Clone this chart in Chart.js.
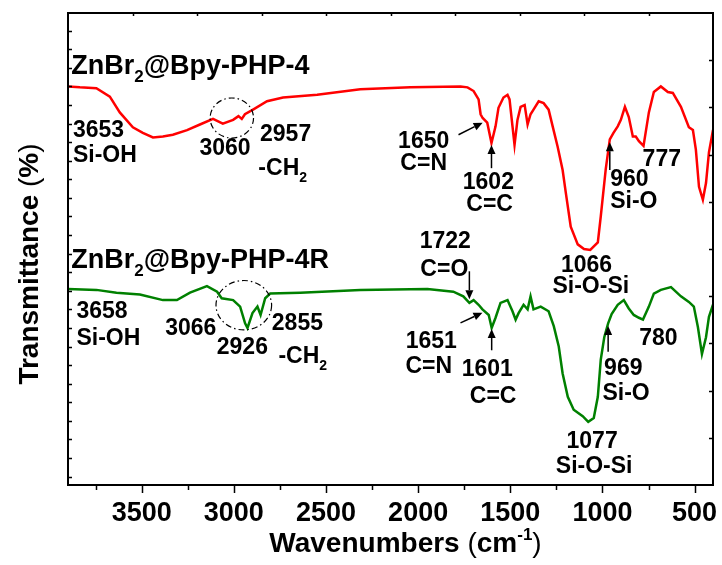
<!DOCTYPE html>
<html>
<head>
<meta charset="utf-8">
<script src="https://cdn.jsdelivr.net/npm/chart.js@4.4.0/dist/chart.umd.min.js"></script>
<style>
  html, body { margin: 0; padding: 0; background: #fff; }
  #wrap { width: 722px; height: 565px; }
</style>
</head>
<body>
<div id="wrap"><canvas id="ftir" width="722" height="565"></canvas></div>
<script>
// FTIR spectra: wavenumber (cm-1) and transmittance (arbitrary offset units)
const wnPHP4 = [3900,3836,3746,3673,3619,3548,3494,3439,3385,3331,3254,3184,3113,3060,3004,2975,2957,2940,2896,2820,2733,2548,2314,2042,1770,1732,1699,1672,1661,1650,1625,1602,1580,1564,1537,1515,1504,1488,1477,1461,1444,1422,1406,1390,1374,1346,1319,1292,1270,1243,1216,1199,1172,1134,1100,1066,1025,1009,982,960,940,917,900,878,857,835,819,802,777,748,721,683,645,618,574,531,509,493,476,455,438,422,400];
const tPHP4  = [42.9,42.8,42.7,41.8,40.1,38.5,37.9,37.4,37.5,37.7,38.2,38.8,39.4,38.9,39.3,39.7,39.4,39.9,40.4,41.3,41.7,42.0,42.6,42.8,42.9,42.8,42.4,41.5,39.9,39.5,39.0,36.8,38.6,40.6,41.7,42.0,41.5,38.6,36.6,39.3,40.7,40.9,38.8,39.9,40.4,41.3,41.1,40.4,38.6,36.4,33.9,31.5,27.8,25.9,25.4,25.3,26.1,28.9,34.0,37.2,37.9,38.6,39.3,40.7,39.6,37.5,37.5,37.0,36.5,40.1,42.3,42.9,42.3,42.2,40.7,38.5,38.2,36.1,32.1,30.7,32.5,35.8,38.2];

const wnPHP4R = [3900,3746,3637,3510,3385,3309,3238,3146,3091,3066,3004,2966,2939,2926,2899,2872,2855,2830,2803,2640,2314,1950,1809,1755,1722,1699,1672,1651,1617,1601,1580,1553,1515,1488,1471,1455,1428,1406,1390,1374,1335,1292,1264,1237,1216,1188,1156,1107,1077,1047,1025,1009,990,969,950,917,884,857,830,802,780,748,721,683,628,574,531,504,482,460,438,422,400];
const tPHP4R  = [21.1,21.0,20.7,20.5,19.9,19.9,20.7,21.4,20.8,20.1,19.9,19.2,17.4,16.9,18.5,19.2,18.3,20.1,20.6,20.7,21.0,21.1,20.8,20.3,19.6,19.9,19.4,18.9,18.3,16.9,18.0,19.6,19.9,18.7,17.8,18.5,19.4,18.9,20.3,18.9,19.2,18.7,17.1,14.9,12.0,9.5,8.1,7.4,6.8,7.2,9.5,13.5,15.9,17.4,18.4,19.4,19.9,19.0,18.3,18.0,17.8,19.2,20.6,21.0,21.3,20.3,19.7,19.2,17.0,14.1,15.9,18.1,19.4];

const seriesNames = ['ZnBr_{2}@Bpy-PHP-4', 'ZnBr_{2}@Bpy-PHP-4R'];
const xLabelTicks = [3500, 3000, 2500, 2000, 1500, 1000, 500];
const xTickValues = [3900, 3750, 3500, 3250, 3000, 2750, 2500, 2250, 2000, 1750, 1500, 1250, 1000, 750, 500, 400];

const FONT = '"Liberation Sans", Arial, Helvetica, sans-serif';

// split "ab_{2}c^{-1}" into runs: plain, subscript, superscript
function parseRich(str) {
  const out = [];
  const re = /_\{([^}]*)\}|\^\{([^}]*)\}|([^_^]+)/g;
  let m;
  while ((m = re.exec(str)) !== null) {
    if (m[1] !== undefined) out.push({ t: m[1], mode: 'sub' });
    else if (m[2] !== undefined) out.push({ t: m[2], mode: 'sup' });
    else out.push({ t: m[3], mode: '' });
  }
  return out;
}

function runFont(size, mode, weight) {
  const s = mode ? Math.round(size * 0.62) : size;
  return (weight || 'bold') + ' ' + s + 'px ' + FONT;
}

function drawRich(ctx, str, x, y, size, align) {
  const runs = parseRich(str);
  let total = 0;
  runs.forEach(r => { ctx.font = runFont(size, r.mode); r.w = ctx.measureText(r.t).width; total += r.w; });
  let cx = align === 'center' ? x - total / 2 : (align === 'right' ? x - total : x);
  ctx.textAlign = 'left';
  ctx.textBaseline = 'alphabetic';
  runs.forEach(r => {
    ctx.font = runFont(size, r.mode);
    let dy = 0;
    if (r.mode === 'sub') dy = size * 0.3;
    if (r.mode === 'sup') dy = -size * 0.42;
    ctx.fillText(r.t, cx, y + dy);
    cx += r.w;
  });
}

function arrow(ctx, x1, y1, x2, y2) {
  const ang = Math.atan2(y2 - y1, x2 - x1);
  const hl = 9, hw = 4;
  const bx = x2 - hl * Math.cos(ang), by = y2 - hl * Math.sin(ang);
  ctx.beginPath();
  ctx.moveTo(x1, y1);
  ctx.lineTo(bx, by);
  ctx.stroke();
  ctx.beginPath();
  ctx.moveTo(x2, y2);
  ctx.lineTo(bx + hw * Math.sin(ang), by - hw * Math.cos(ang));
  ctx.lineTo(bx - hw * Math.sin(ang), by + hw * Math.cos(ang));
  ctx.closePath();
  ctx.fill();
}

// frame, inward/outward tick marks, peak notes, arrows, dash-dot rings, axis titles
const ftirDecor = {
  id: 'ftirDecor',
  afterDatasetsDraw(chart, args, o) {
    const { ctx, chartArea: a, scales: { x, y } } = chart;
    const X = v => x.getPixelForValue(v);
    const Y = v => y.getPixelForValue(v);
    ctx.save();
    ctx.fillStyle = '#000';
    ctx.strokeStyle = '#000';

    // bottom axis ticks (outward), major every 500, minor every 250
    ctx.lineWidth = 1.5;
    ctx.beginPath();
    x.ticks.forEach(t => {
      const v = t.value;
      if (v % 250 !== 0) return;
      const px = Math.round(X(v)) + 0.5;
      const len = v % 500 === 0 ? 8 : 5;
      ctx.moveTo(px, a.bottom);
      ctx.lineTo(px, a.bottom + len);
    });
    // top axis ticks (inward), ten equal divisions
    for (let k = 1; k < 10; k++) {
      const px = Math.round(a.left + (a.right - a.left) * k / 10) + 0.5;
      ctx.moveTo(px, a.top);
      ctx.lineTo(px, a.top + 3);
    }
    // left axis ticks (inward)
    o.leftTicks.forEach(v => {
      const py = Math.round(Y(v)) + 0.5;
      ctx.moveTo(a.left, py);
      ctx.lineTo(a.left + 4, py);
    });
    // right axis ticks (inward), ten equal divisions
    for (let k = 1; k < 10; k++) {
      const py = Math.round(a.bottom - (a.bottom - a.top) * k / 10) + 0.5;
      ctx.moveTo(a.right, py);
      ctx.lineTo(a.right - 4, py);
    }
    ctx.stroke();

    // frame
    ctx.lineWidth = 2;
    ctx.strokeRect(a.left, a.top, a.right - a.left, a.bottom - a.top);

    // dash-dot rings around the C-H stretching region
    ctx.lineWidth = 1.2;
    ctx.setLineDash([6, 3, 1.5, 3]);
    o.rings.forEach(r => {
      ctx.beginPath();
      ctx.ellipse(X(r.wn), Y(r.t), r.rx, r.ry, 0, 0, Math.PI * 2);
      ctx.stroke();
    });
    ctx.setLineDash([]);

    // arrows pointing at labelled bands
    ctx.lineWidth = 1.5;
    o.arrows.forEach(r => arrow(ctx, X(r.wn), Y(r.t), X(r.wn2), Y(r.t2)));

    // sample names
    o.names.forEach((n, i) => drawRich(ctx, seriesNames[i], X(n.wn), Y(n.t), 27, 'left'));

    // band assignments
    o.notes.forEach(n => drawRich(ctx, n.s, X(n.wn), Y(n.t), 23, n.align));

    // x-axis title
    const cxp = (a.left + a.right) / 2 + 15;
    const parts = [
      { t: 'Wavenumbers ', f: 'bold 28px ' + FONT, dy: 0 },
      { t: '(', f: '28px ' + FONT, dy: 0 },
      { t: 'cm', f: 'bold 28px ' + FONT, dy: 0 },
      { t: '-1', f: 'bold 17px ' + FONT, dy: -12 },
      { t: ')', f: '28px ' + FONT, dy: 0 }
    ];
    let tw = 0;
    parts.forEach(p => { ctx.font = p.f; p.w = ctx.measureText(p.t).width; tw += p.w; });
    let px = cxp - tw / 2;
    ctx.textAlign = 'left';
    ctx.textBaseline = 'alphabetic';
    parts.forEach(p => { ctx.font = p.f; ctx.fillText(p.t, px, 552 + p.dy); px += p.w; });

    // y-axis title
    ctx.save();
    ctx.translate(38, (a.top + a.bottom) / 2 + 15);
    ctx.rotate(-Math.PI / 2);
    const yparts = [
      { t: 'Transmittance ', f: 'bold 28px ' + FONT },
      { t: '(', f: '28px ' + FONT },
      { t: '%', f: 'bold 28px ' + FONT },
      { t: ')', f: '28px ' + FONT }
    ];
    let yw = 0;
    yparts.forEach(p => { ctx.font = p.f; p.w = ctx.measureText(p.t).width; yw += p.w; });
    let yp = -yw / 2;
    yparts.forEach(p => { ctx.font = p.f; ctx.fillText(p.t, yp, 0); yp += p.w; });
    ctx.restore();

    ctx.restore();
  }
};

const leftTicks = [];
for (let k = 0; k <= 24; k++) leftTicks.push(0.9 + 2 * k);

new Chart(document.getElementById('ftir'), {
  type: 'line',
  data: {
    datasets: [
      {
        label: 'ZnBr2@Bpy-PHP-4',
        data: wnPHP4.map((w, i) => ({ x: w, y: tPHP4[i] })),
        borderColor: '#ff0000',
        borderWidth: 2.5,
        pointRadius: 0,
        tension: 0,
        fill: false
      },
      {
        label: 'ZnBr2@Bpy-PHP-4R',
        data: wnPHP4R.map((w, i) => ({ x: w, y: tPHP4R[i] })),
        borderColor: '#008000',
        borderWidth: 2.5,
        pointRadius: 0,
        tension: 0,
        fill: false
      }
    ]
  },
  options: {
    responsive: false,
    animation: false,
    devicePixelRatio: 1,
    layout: { padding: { left: 0, right: 9, top: 13, bottom: 0 } },
    plugins: {
      legend: { display: false },
      tooltip: { enabled: false },
      ftirDecor: {
        leftTicks: leftTicks,
        rings: [
          { wn: 3011, t: 39.5, rx: 21.7, ry: 20 },
          { wn: 2946, t: 19.35, rx: 27.8, ry: 24.7 }
        ],
        arrows: [
          { wn: 1781, t: 37.7, wn2: 1650, t2: 39.0 },
          { wn: 1602, t: 34.1, wn2: 1602, t2: 36.6 },
          { wn: 960, t: 33.9, wn2: 960, t2: 36.9 },
          { wn: 1722, t: 23.0, wn2: 1722, t2: 20.0 },
          { wn: 1770, t: 17.45, wn2: 1651, t2: 18.55 },
          { wn: 1601, t: 14.5, wn2: 1601, t2: 16.8 },
          { wn: 969, t: 14.35, wn2: 969, t2: 17.1 }
        ],
        names: [
          { wn: 3882, t: 44.2 },
          { wn: 3882, t: 23.35 }
        ],
        notes: [
          { s: '3653', wn: 3873, t: 37.5, align: 'left' },
          { s: 'Si-OH', wn: 3873, t: 34.75, align: 'left' },
          { s: '3060', wn: 3048, t: 35.5, align: 'center' },
          { s: '2957', wn: 2858, t: 37.0, align: 'left' },
          { s: '-CH_{2}', wn: 2867, t: 33.4, align: 'left' },
          { s: '1650', wn: 1970, t: 36.25, align: 'center' },
          { s: 'C=N', wn: 1970, t: 33.9, align: 'center' },
          { s: '1602', wn: 1619, t: 31.85, align: 'center' },
          { s: 'C=C', wn: 1612, t: 29.45, align: 'center' },
          { s: '960', wn: 958, t: 32.2, align: 'left' },
          { s: 'Si-O', wn: 958, t: 29.8, align: 'left' },
          { s: '777', wn: 782, t: 34.3, align: 'left' },
          { s: '1066', wn: 1086, t: 22.95, align: 'center' },
          { s: 'Si-O-Si', wn: 1063, t: 20.65, align: 'center' },
          { s: '1722', wn: 1853, t: 25.5, align: 'center' },
          { s: 'C=O', wn: 1858, t: 22.45, align: 'center' },
          { s: '3658', wn: 3854, t: 17.95, align: 'left' },
          { s: 'Si-OH', wn: 3854, t: 15.1, align: 'left' },
          { s: '3066', wn: 3234, t: 16.15, align: 'center' },
          { s: '2926', wn: 2954, t: 14.1, align: 'center' },
          { s: '2855', wn: 2794, t: 16.7, align: 'left' },
          { s: '-CH_{2}', wn: 2758, t: 13.1, align: 'left' },
          { s: '1651', wn: 1929, t: 14.7, align: 'center' },
          { s: 'C=N', wn: 1942, t: 12.1, align: 'center' },
          { s: '1601', wn: 1625, t: 11.75, align: 'center' },
          { s: 'C=C', wn: 1593, t: 8.85, align: 'center' },
          { s: '780', wn: 800, t: 15.1, align: 'left' },
          { s: '969', wn: 991, t: 11.85, align: 'left' },
          { s: 'Si-O', wn: 1000, t: 9.15, align: 'left' },
          { s: '1077', wn: 1056, t: 3.95, align: 'center' },
          { s: 'Si-O-Si', wn: 1045, t: 1.3, align: 'center' }
        ]
      }
    },
    scales: {
      x: {
        type: 'linear',
        position: 'bottom',
        min: 400,
        max: 3900,
        reverse: true,
        afterBuildTicks: s => { s.ticks = xTickValues.map(v => ({ value: v })); },
        afterFit: s => { s.height = 80; s.paddingLeft = 0; s.paddingRight = 0; },
        grid: { display: false },
        border: { display: false },
        ticks: {
          autoSkip: false,
          maxRotation: 0,
          minRotation: 0,
          padding: 4,
          color: '#000',
          font: { family: FONT, size: 27, weight: 'bold' },
          callback: v => (xLabelTicks.includes(v) ? String(v) : '')
        }
      },
      y: {
        type: 'linear',
        position: 'left',
        min: 0,
        max: 50.8,
        afterFit: s => { s.width = 68; },
        grid: { display: false },
        border: { display: false },
        ticks: { display: false }
      }
    }
  },
  plugins: [ftirDecor]
});
</script>
</body>
</html>
